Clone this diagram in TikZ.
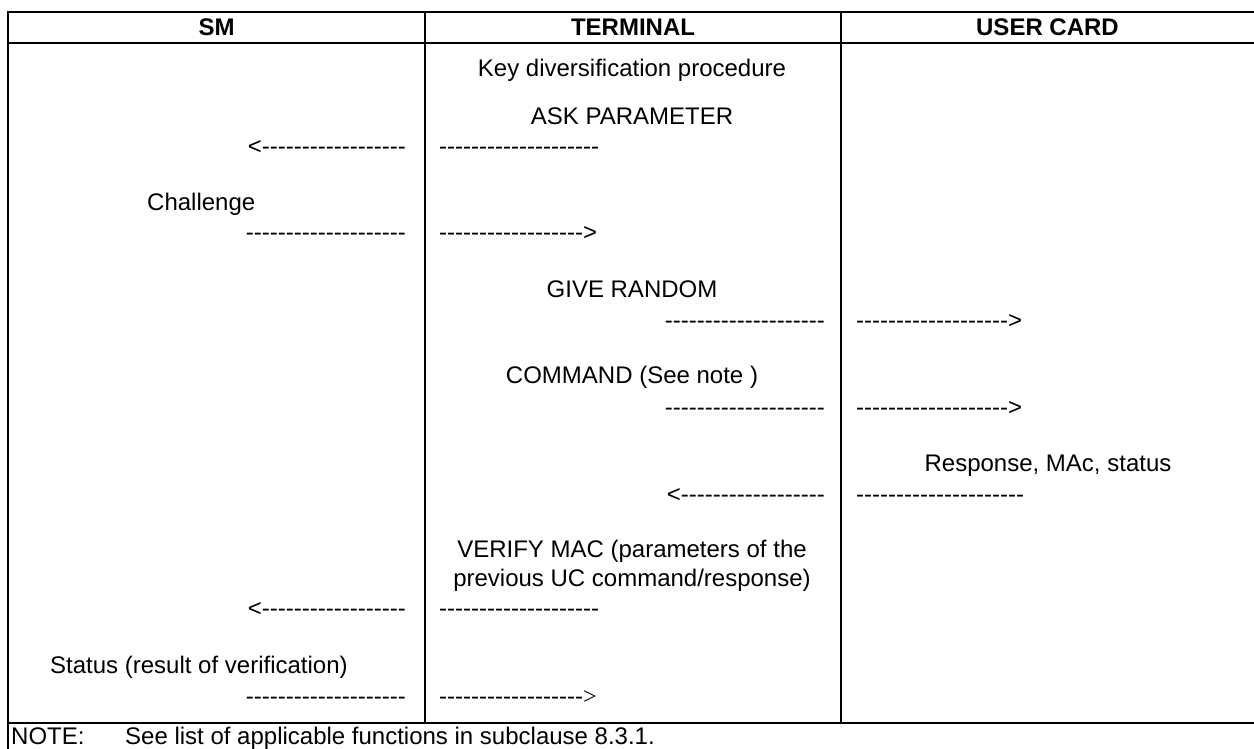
\documentclass[tikz,border=0pt]{standalone}
\usepackage{fontspec}
\newfontfamily\arial{Liberation Sans}
\newfontfamily\tms{Liberation Serif}
% a run of plain hyphens, kept apart so that no ligature joins them
\newcount\dashcnt
\newcommand\dashrun[1]{\dashcnt=0 \loop\ifnum\dashcnt<#1 -\kern0pt\advance\dashcnt by 1 \repeat}
\begin{document}
\begin{tikzpicture}[x=1pt,y=-1pt,
  font={\arial\fontsize{24}{29}\selectfont},
  rule/.style={line width=2pt},
  txt/.style={anchor=base,inner sep=0pt},
  head/.style={txt,font={\arial\bfseries\fontsize{24}{29}\selectfont}},
  msgE/.style={anchor=base east,inner sep=0pt},
  msgW/.style={anchor=base west,inner sep=0pt}]
\useasboundingbox (0,0) rectangle (1254,749);

% table frame and column rules
\draw[rule] (1270,12) -- (8,12) -- (8,770);
\draw[rule] (8,43) -- (1270,43);
\draw[rule] (8,723) -- (1270,723);
\draw[rule] (425,12) -- (425,723);
\draw[rule] (841,12) -- (841,723);

% column headings
\node[head] (hSM)   at (216.5,35.5) {SM};
\node[head] (hTerm) at (633,35.5)   {TERMINAL};
\node[head] (hUC)   at (1047.5,35.5){USER CARD};

% key diversification
\node[txt] (kdp) at (632,76.5)  {Key diversification procedure};
\node[txt] (ask) at (632,124.5) {ASK PARAMETER};
\node[msgE] (r1a) at (406,155) {<\dashrun{18}};
\node[msgW] (r1b) at (439,155) {\dashrun{20}};

\node[msgW] (chl) at (147,211) {Challenge};
\node[msgE] (r2a) at (406,240.5) {\dashrun{20}};
\node[msgW] (r2b) at (439,240.5) {\dashrun{18}>};

\node[txt] (giv) at (632,297.5) {GIVE RANDOM};
\node[msgE] (r3a) at (825,328.5) {\dashrun{20}};
\node[msgW] (r3b) at (856,328.5) {\dashrun{19}>};

\node[txt] (cmd) at (632,383.5) {COMMAND (See note )};
\node[msgE] (r4a) at (825,415.5) {\dashrun{20}};
\node[msgW] (r4b) at (856,415.5) {\dashrun{19}>};

\node[txt] (rsp) at (1048,471) {Response, MAc, status};
\node[msgE] (r5a) at (825,502) {<\dashrun{18}};
\node[msgW] (r5b) at (856,502) {\dashrun{21}};

\node[txt] (vmac1) at (632,557) {VERIFY MAC (parameters of the};
\node[txt] (vmac2) at (632,586) {previous UC command/response)};
\node[msgE] (r6a) at (406,616.5) {<\dashrun{18}};
\node[msgW] (r6b) at (439,616.5) {\dashrun{20}};

\node[msgW] (sts) at (50,673) {Status (result of verification)};
\node[msgE] (r7a) at (406,704) {\dashrun{20}};
\node[msgW] (r7b) at (439,704) {\dashrun{18}{\tms >}};

% note row
\node[msgW] (nt)  at (11,744)  {NOTE:};
\node[msgW] (ntx) at (125,744) {See list of applicable functions in subclause 8.3.1.};
\end{tikzpicture}
\end{document}
